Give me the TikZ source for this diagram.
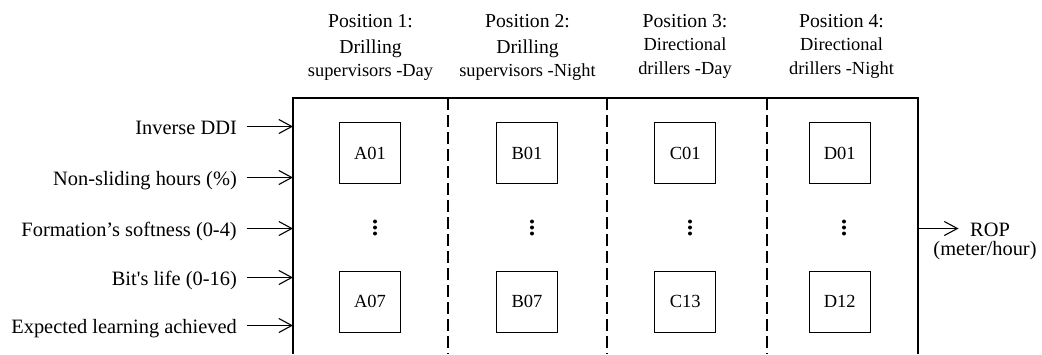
\documentclass[tikz,border=0pt]{standalone}
\usepackage{fontspec}
\setmainfont{Liberation Serif}[Ligatures=TeXOff]
\usetikzlibrary{arrows.meta}
\begin{document}
\begin{tikzpicture}[x=1pt,y=-1pt,
  arr/.style={line width=1.1pt,-{Straight Barb[length=13pt,width=14pt,line width=1.1pt]}},
  cell/.style={draw,line width=1.2pt,minimum width=61pt,minimum height=61pt,inner sep=0pt,font=\fontsize{18.5}{22}\selectfont},
  lbl/.style={inner sep=0pt,anchor=base east,font=\fontsize{20.4}{24}\selectfont},
  hdrA/.style={inner sep=0pt,anchor=base,font=\fontsize{19.7}{24}\selectfont},
  hdrB/.style={inner sep=0pt,anchor=base,font=\fontsize{18.4}{22}\selectfont},
  frame/.style={line width=1.3pt},
  sep/.style={line width=2.3pt,dash pattern=on 11.5pt off 5.5pt},
  dot/.style={fill=black}]
\useasboundingbox (0,0) rectangle (1042,354);

% frame
\draw[frame] (293,354) -- (293,98) -- (918,98) -- (918,354);
\foreach \x in {448.3,607.3,766.7}
  \draw[sep] (\x,98) -- (\x,354);

% headers
\node[hdrA] (h1a) at (370.5,27) {Position 1:};
\node[hdrA] (h1b) at (370.5,53) {Drilling};
\node[hdrB] (h1c) at (370.5,76) {supervisors -Day};
\node[hdrA] (h2a) at (527.5,27) {Position 2:};
\node[hdrA] (h2b) at (527.5,53) {Drilling};
\node[hdrB] (h2c) at (527.5,76) {supervisors -Night};
\node[hdrA] (h3a) at (685,27.5) {Position 3:};
\node[hdrB] (h3b) at (685,50) {Directional};
\node[hdrB] (h3c) at (685,74) {drillers -Day};
\node[hdrA] (h4a) at (841.5,27.5) {Position 4:};
\node[hdrB] (h4b) at (841.5,50) {Directional};
\node[hdrB] (h4c) at (841.5,74) {drillers -Night};

% cells
\node[cell] (A01) at (370,153) {A01};
\node[cell] (B01) at (527,153) {B01};
\node[cell] (C01) at (685.3,153) {C01};
\node[cell] (D01) at (839.7,153) {D01};
\node[cell] (A07) at (370,301.7) {A07};
\node[cell] (B07) at (527,301.7) {B07};
\node[cell] (C13) at (685.3,301.7) {C13};
\node[cell] (D12) at (839.7,301.7) {D12};

% vertical dots
\foreach \x in {375,532,690,844}
  \foreach \y in {221.5,227.5,233.5}
    \fill[dot] (\x,\y) circle (2pt);

% inputs
\coordinate (t1) at (293,126.5);
\coordinate (t2) at (293,177.5);
\coordinate (t3) at (293,228.5);
\coordinate (t4) at (293,277.5);
\coordinate (t5) at (293,325.5);
\node[lbl] (in1) at (237,134.7) {Inverse DDI};
\node[lbl] (in2) at (237,185) {Non-sliding hours (\%)};
\node[lbl] (in3) at (237,236.3) {Formation’s softness (0-4)};
\node[lbl] (in4) at (237,285.3) {Bit's life (0-16)};
\node[lbl] (in5) at (237,333) {Expected learning achieved};
\foreach \i in {1,...,5}
  \draw[arr] ([xshift=9.7pt]in\i.east |- t\i) -- (t\i);

% output
\coordinate (o) at (918,228.5);
\node[inner sep=0pt,anchor=base west,font=\fontsize{20.4}{24}\selectfont] (rop) at (970,236.3) {ROP};
\node[inner sep=0pt,anchor=base,font=\fontsize{20.4}{24}\selectfont] (unit) at (985,255.5) {(meter/hour)};
\draw[arr] (o) -- ([xshift=-11.5pt]rop.west |- o);
\end{tikzpicture}
\end{document}
